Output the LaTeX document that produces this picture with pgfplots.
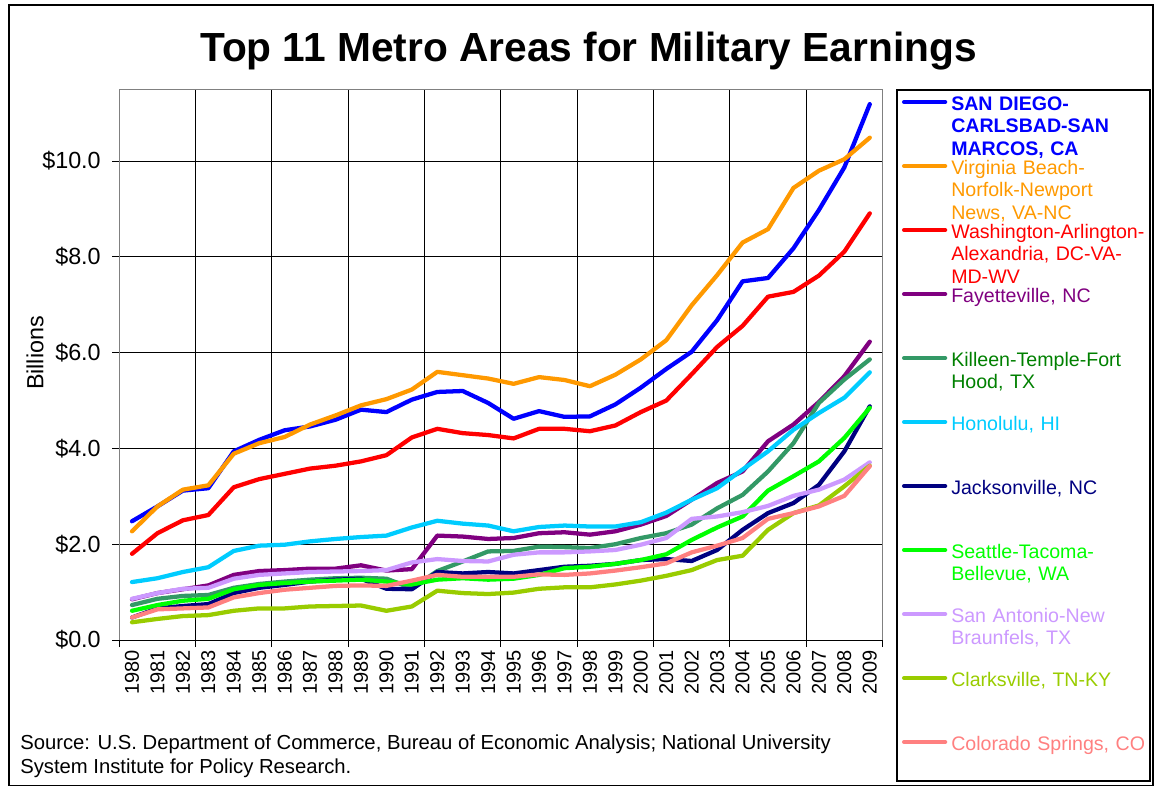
\documentclass[border=0pt]{standalone}
\usepackage{pgfplots}
\pgfplotsset{compat=1.18}
\usepackage{pgfplotstable}
\usepackage{fontspec}
\setmainfont{Liberation Sans}
\definecolor{csd}{HTML}{0000FF}
\definecolor{cvb}{HTML}{FF9900}
\definecolor{cwa}{HTML}{FF0000}
\definecolor{cfa}{HTML}{800080}
\definecolor{cki}{HTML}{339966}
\definecolor{ckit}{HTML}{008000}
\definecolor{cho}{HTML}{00CCFF}
\definecolor{cja}{HTML}{000080}
\definecolor{cse}{HTML}{00FF00}
\definecolor{csa}{HTML}{CC99FF}
\definecolor{ccl}{HTML}{99CC00}
\definecolor{cco}{HTML}{FF8080}
\pgfplotstableread{
x sd vb wa fa ki ho ja se sa cl co
0 2.48 2.27 1.80 0.85 0.73 1.21 0.47 0.61 0.86 0.37 0.47
1 2.79 2.79 2.23 0.98 0.86 1.29 0.66 0.73 0.98 0.44 0.64
2 3.12 3.14 2.50 1.06 0.92 1.42 0.71 0.82 1.07 0.50 0.66
3 3.17 3.23 2.61 1.14 0.94 1.52 0.75 0.86 1.09 0.52 0.68
4 3.94 3.89 3.19 1.36 1.09 1.86 0.98 1.06 1.28 0.61 0.89
5 4.18 4.11 3.36 1.44 1.17 1.97 1.09 1.15 1.36 0.66 0.98
6 4.38 4.24 3.47 1.46 1.22 1.99 1.15 1.19 1.39 0.66 1.05
7 4.46 4.50 3.58 1.49 1.26 2.06 1.22 1.22 1.42 0.70 1.09
8 4.60 4.69 3.64 1.49 1.29 2.11 1.26 1.24 1.43 0.71 1.13
9 4.81 4.90 3.73 1.56 1.30 2.15 1.28 1.26 1.44 0.72 1.14
10 4.76 5.03 3.86 1.45 1.28 2.18 1.07 1.22 1.46 0.61 1.13
11 5.02 5.23 4.23 1.48 1.08 2.35 1.06 1.16 1.62 0.70 1.24
12 5.18 5.60 4.41 2.18 1.44 2.49 1.42 1.26 1.69 1.03 1.36
13 5.20 5.53 4.32 2.16 1.64 2.43 1.39 1.29 1.65 0.98 1.32
14 4.95 5.46 4.28 2.11 1.85 2.39 1.42 1.26 1.64 0.96 1.32
15 4.62 5.35 4.21 2.13 1.86 2.27 1.39 1.28 1.78 0.99 1.32
16 4.78 5.49 4.41 2.23 1.95 2.36 1.46 1.36 1.83 1.07 1.37
17 4.66 5.43 4.41 2.25 1.94 2.39 1.53 1.50 1.83 1.10 1.36
18 4.67 5.30 4.36 2.20 1.92 2.37 1.55 1.53 1.85 1.10 1.39
19 4.92 5.54 4.48 2.27 2.00 2.37 1.59 1.59 1.88 1.16 1.45
20 5.27 5.86 4.76 2.41 2.13 2.46 1.67 1.67 1.99 1.24 1.52
21 5.66 6.26 5.00 2.59 2.23 2.66 1.69 1.79 2.13 1.34 1.60
22 6.02 6.99 5.55 2.93 2.41 2.93 1.65 2.09 2.53 1.46 1.83
23 6.68 7.62 6.12 3.28 2.75 3.17 1.88 2.35 2.58 1.67 1.97
24 7.49 8.30 6.56 3.52 3.03 3.56 2.30 2.58 2.67 1.76 2.13
25 7.56 8.58 7.17 4.15 3.52 3.94 2.65 3.12 2.80 2.30 2.53
26 8.18 9.44 7.27 4.50 4.11 4.39 2.86 3.42 3.01 2.65 2.65
27 8.98 9.80 7.61 4.97 4.95 4.74 3.24 3.73 3.14 2.81 2.79
28 9.87 10.04 8.11 5.51 5.44 5.06 3.94 4.22 3.35 3.21 3.01
29 11.19 10.49 8.91 6.23 5.86 5.59 4.88 4.85 3.71 3.64 3.63
}\data
\begin{document}
\begin{tikzpicture}
\path[use as bounding box, x=0.75pt, y=0.75pt] (-119.3,-146) rectangle (1034.7,640);
\begin{axis}[
  at={(0,0)}, anchor=south west,
  scale only axis, width=572.4pt, height=413pt,
  xmin=-0.5, xmax=29.5, ymin=0, ymax=11.5,
  xtick={0,...,29},
  xticklabels={1980,1981,1982,1983,1984,1985,1986,1987,1988,1989,1990,1991,1992,1993,1994,1995,1996,1997,1998,1999,2000,2001,2002,2003,2004,2005,2006,2007,2008,2009},
  minor xtick={-0.5,2.5,5.5,8.5,11.5,14.5,17.5,20.5,23.5,26.5,29.5},
  ytick={0,2,4,6,8,10},
  yticklabels={\$0.0,\$2.0,\$4.0,\$6.0,\$8.0,\$10.0},
  tick align=outside, tick pos=left,
  major tick length=5.25pt, minor tick length=5.25pt,
  major x tick style={draw=none},
  xminorgrids=true, ymajorgrids=true,
  minor x grid style={black, line width=0.75pt},
  major y grid style={black, line width=0.75pt},
  axis line style={draw=gray, line width=0.75pt},
  tick style={black, line width=0.75pt},
  xticklabel style={font=\fontsize{15}{18}\selectfont, rotate=90, anchor=east, inner sep=0pt, xshift=-2pt},
  yticklabel style={font=\fontsize{17.5}{21}\selectfont, anchor=east, inner sep=0pt, xshift=-8.5pt},
  legend style={at={(1.02555,1)}, anchor=north west, draw=none, fill=none,
    inner sep=0pt, outer sep=0pt, row sep=0pt, column sep=3pt,
    cells={anchor=base west},
    nodes={inner sep=0pt, outer sep=0pt, text width=160pt, align=left,
      text height=15.9pt, text depth=32.1pt, font=\fontsize{14.7}{16.8}\selectfont}},
  legend image code/.code={\draw[#1] (0pt,6.4pt) -- (30.75pt,6.4pt);},
  every axis plot/.append style={line width=3.2pt, line join=round, line cap=round, mark=none},
  clip=false,
]
\addplot[csd] table[x=x, y=sd] {\data};
\addlegendentry{\color{csd}\bfseries SAN DIEGO-\\CARLSBAD-SAN\\MARCOS, CA}
\addplot[cvb] table[x=x, y=vb] {\data};
\addlegendentry{\color{cvb}Virginia Beach-\\Norfolk-Newport\\News, VA-NC}
\addplot[cwa] table[x=x, y=wa] {\data};
\addlegendentry{\color{cwa}Washington-Arlington-\\Alexandria, DC-VA-\\MD-WV}
\addplot[cfa] table[x=x, y=fa] {\data};
\addlegendentry{\color{cfa}Fayetteville, NC}
\addplot[cki] table[x=x, y=ki] {\data};
\addlegendentry{\color{ckit}Killeen-Temple-Fort\\Hood, TX}
\addplot[cho] table[x=x, y=ho] {\data};
\addlegendentry{\color{cho}Honolulu, HI}
\addplot[cja] table[x=x, y=ja] {\data};
\addlegendentry{\color{cja}Jacksonville, NC}
\addplot[cse] table[x=x, y=se] {\data};
\addlegendentry{\color{cse}Seattle-Tacoma-\\Bellevue, WA}
\addplot[csa] table[x=x, y=sa] {\data};
\addlegendentry{\color{csa}San Antonio-New\\Braunfels, TX}
\addplot[ccl] table[x=x, y=cl] {\data};
\addlegendentry{\color{ccl}Clarksville, TN-KY}
\addplot[cco] table[x=x, y=co] {\data};
\addlegendentry{\color{cco}Colorado Springs, CO}
\end{axis}
\begin{scope}[x=0.75pt, y=0.75pt]
\draw[black, line width=0.75pt] (0,0) -- (763.2,0);
\draw[black, line width=1.5pt] (-110.3,-145.5) rectangle (1033.2,634.5);
\draw[black, line width=1.1pt] (777.7,550) rectangle (1030.7,-141);
\node[anchor=base, inner sep=0pt, font=\fontsize{30.5}{36}\selectfont\bfseries] at (469.2,578) {Top 11 Metro Areas for Military Earnings};
\node[rotate=90, inner sep=0pt, font=\fontsize{17.5}{21}\selectfont] at (-84.3,287) {Billions};
\node[anchor=base west, inner sep=0pt, font=\fontsize{15.2}{18}\selectfont] at (-99.3,-109) {Source: U.S. Department of Commerce, Bureau of Economic Analysis; National University};
\node[anchor=base west, inner sep=0pt, font=\fontsize{15.2}{18}\selectfont] at (-99.3,-133) {System Institute for Policy Research.};
\end{scope}
\end{tikzpicture}
\end{document}
